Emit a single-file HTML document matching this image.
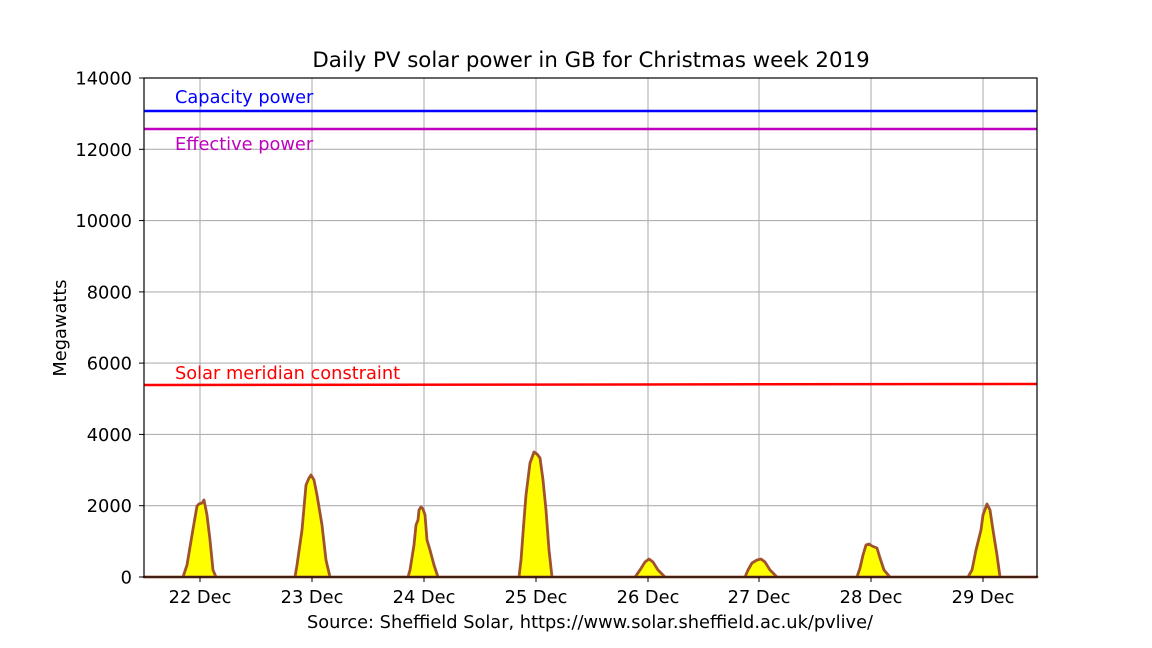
<!DOCTYPE html>
<html><head><meta charset="utf-8"><style>body{margin:0;background:#fff}svg{display:block}</style></head><body>
<svg width="1152" height="648" viewBox="0 0 1152 648" xmlns="http://www.w3.org/2000/svg" font-family="DejaVu Sans, Liberation Sans, sans-serif">
<g stroke="#b0b0b0" stroke-width="1.1">
<line x1="144" x2="1037" y1="505.7" y2="505.7"/><line x1="144" x2="1037" y1="434.4" y2="434.4"/><line x1="144" x2="1037" y1="363.1" y2="363.1"/><line x1="144" x2="1037" y1="291.9" y2="291.9"/><line x1="144" x2="1037" y1="220.6" y2="220.6"/><line x1="144" x2="1037" y1="149.3" y2="149.3"/>
<line x1="200" x2="200" y1="78" y2="577"/><line x1="312" x2="312" y1="78" y2="577"/><line x1="424" x2="424" y1="78" y2="577"/><line x1="536" x2="536" y1="78" y2="577"/><line x1="648" x2="648" y1="78" y2="577"/><line x1="759" x2="759" y1="78" y2="577"/><line x1="871" x2="871" y1="78" y2="577"/><line x1="983" x2="983" y1="78" y2="577"/>
</g>
<line x1="144" x2="1037" y1="111" y2="111" stroke="#0000ff" stroke-width="2.5"/>
<line x1="144" x2="1037" y1="129" y2="129" stroke="#bf00bf" stroke-width="2.5"/>
<line x1="144" x2="1037" y1="385" y2="384" stroke="#ff0000" stroke-width="2.5"/>
<path fill="#ffff00" stroke="#a0522d" stroke-width="2.8" stroke-linejoin="round" d="M144,577 L183,577 L187,565 L192,535 L197,506 L199,504 L202,503 L204,500 L207,515 L210,540 L213,570 L216,577 L295,577 L297,565 L302,530 L306,485 L309,478 L311,475 L314,480 L317,495 L322,525 L326,560 L330,577 L408,577 L410,570 L414,545 L416,525 L418,520 L419,510 L421,507 L423,509 L425,515 L427,540 L430,550 L434,565 L438,577 L519,577 L521,560 L524,520 L526,495 L530,463 L534,452 L537,454 L540,458 L543,480 L546,510 L549,550 L552,577 L635,577 L640,570 L645,562 L649,559 L653,562 L658,570 L665,577 L745,577 L748,570 L752,563 L757,560 L761,559 L765,562 L770,570 L777,577 L857,577 L860,568 L863,555 L866,545 L869,544 L872,546 L877,548 L880,558 L884,570 L890,577 L968,577 L972,570 L976,550 L979,538 L981,530 L983,515 L987,504 L990,510 L993,530 L997,555 L1000,577 L1037,577 Z"/>
<rect x="144" y="78" width="893" height="499" fill="none" stroke="#000" stroke-width="1.2"/>
<g stroke="#000" stroke-width="1">
<line x1="139" x2="144" y1="577" y2="577"/><line x1="139" x2="144" y1="505.7" y2="505.7"/><line x1="139" x2="144" y1="434.4" y2="434.4"/><line x1="139" x2="144" y1="363.1" y2="363.1"/><line x1="139" x2="144" y1="291.9" y2="291.9"/><line x1="139" x2="144" y1="220.6" y2="220.6"/><line x1="139" x2="144" y1="149.3" y2="149.3"/><line x1="139" x2="144" y1="78" y2="78"/>
<line x1="200" x2="200" y1="577" y2="582"/><line x1="312" x2="312" y1="577" y2="582"/><line x1="424" x2="424" y1="577" y2="582"/><line x1="536" x2="536" y1="577" y2="582"/><line x1="648" x2="648" y1="577" y2="582"/><line x1="759" x2="759" y1="577" y2="582"/><line x1="871" x2="871" y1="577" y2="582"/><line x1="983" x2="983" y1="577" y2="582"/>
</g>
<g font-size="17.8" text-anchor="end" fill="#000">
<text x="132" y="583.5">0</text><text x="132" y="512.2">2000</text><text x="132" y="440.9">4000</text><text x="132" y="369.6">6000</text><text x="132" y="298.4">8000</text><text x="132" y="227.1">10000</text><text x="132" y="155.8">12000</text><text x="132" y="84.5">14000</text>
</g>
<g font-size="17.8" text-anchor="middle" fill="#000">
<text x="200" y="603">22 Dec</text><text x="312" y="603">23 Dec</text><text x="424" y="603">24 Dec</text><text x="536" y="603">25 Dec</text><text x="648" y="603">26 Dec</text><text x="759" y="603">27 Dec</text><text x="871" y="603">28 Dec</text><text x="983" y="603">29 Dec</text>
<text x="590" y="628">Source: Sheffield Solar, https://www.solar.sheffield.ac.uk/pvlive/</text>
<text x="591" y="67" font-size="21.3">Daily PV solar power in GB for Christmas week 2019</text>
<text transform="translate(66,328) rotate(-90)">Megawatts</text>
</g>
<g font-size="17.8">
<text x="175" y="103" fill="#0000ff">Capacity power</text>
<text x="175" y="150" fill="#bf00bf">Effective power</text>
<text x="175" y="379" fill="#ff0000">Solar meridian constraint</text>
</g>
</svg>
</body></html>
